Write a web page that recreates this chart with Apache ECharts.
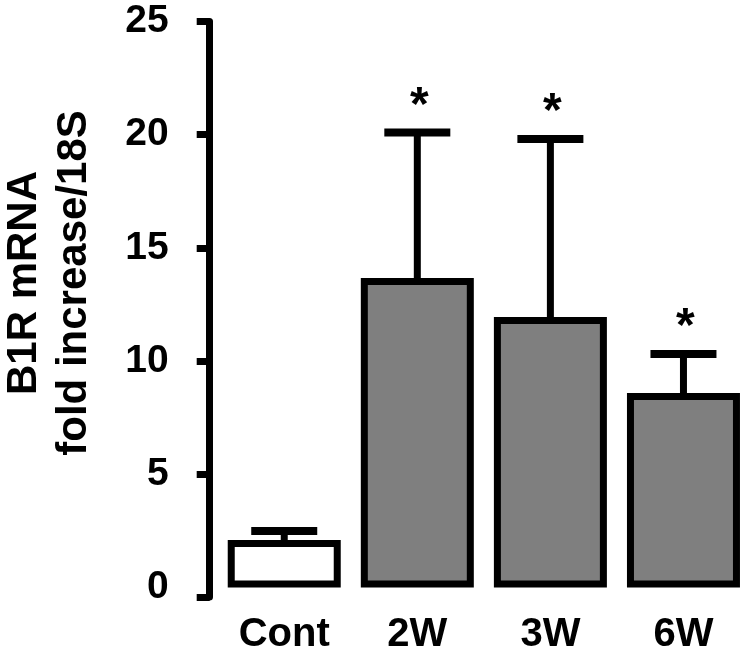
<!DOCTYPE html>
<html>
<head>
<meta charset="utf-8">
<script src="https://cdn.jsdelivr.net/npm/echarts@6/dist/echarts.min.js"></script>
<style>
  html, body { margin: 0; padding: 0; background: #fff; }
  #chart { width: 750px; height: 655px; }
</style>
</head>
<body>
<div id="chart"></div>
<script>
// ---- data ----
const categories = ['Cont', '2W', '3W', '6W'];
const means = [2.10, 13.67, 11.95, 8.59];
const upperErr = [2.50, 20.10, 19.81, 10.31];
const significance = ['', '*', '*', '*'];
const barColors = ['#ffffff', '#7f7f7f', '#7f7f7f', '#7f7f7f'];
const yTickLabels = [0, 5, 10, 15, 20, 25];
const yMin = -0.42;
const yMax = 25;

const FONT = '"Liberation Sans", Arial, Helvetica, sans-serif';

const chart = echarts.init(document.getElementById('chart'), null, { renderer: 'canvas' });

const barData = means.map((v, i) => ({ value: v, itemStyle: { color: barColors[i] } }));
const errData = means.map((v, i) => [i, v, upperErr[i], significance[i]]);

chart.setOption({
  animation: false,
  backgroundColor: '#ffffff',
  grid: { left: 217.7, right: -1, top: 21.5, bottom: 655 - 597, containLabel: false },
  xAxis: {
    type: 'category',
    data: categories,
    axisLine: { show: false },
    axisTick: { show: false },
    axisLabel: {
      margin: 18,
      color: '#000',
      fontFamily: FONT,
      fontWeight: 'bold',
      fontSize: 40
    }
  },
  yAxis: {
    type: 'value',
    min: yMin,
    max: yMax,
    offset: 8,
    splitLine: { show: false },
    axisLine: { show: true, lineStyle: { color: '#000', width: 7 } },
    axisTick: {
      show: true,
      length: 13,
      customValues: [yMin].concat(yTickLabels.slice(1)),
      lineStyle: { color: '#000', width: 7 }
    },
    axisLabel: {
      customValues: yTickLabels,
      margin: 41,
      color: '#000',
      fontFamily: FONT,
      fontWeight: 'bold',
      fontSize: 39
    }
  },
  graphic: [{
    type: 'text',
    x: 49,
    y: 283,
    rotation: Math.PI / 2,
    style: {
      text: 'B1R mRNA\nfold increase/18S',
      fill: '#000',
      font: 'bold 42px ' + FONT,
      lineHeight: 50,
      align: 'center',
      verticalAlign: 'middle'
    }
  }],
  series: [
    {
      type: 'custom',
      z: 1,
      data: errData,
      renderItem: function (params, api) {
        const base = api.coord([api.value(0), api.value(1)]);
        const top = api.coord([api.value(0), api.value(2)]);
        const half = 33;
        const sig = significance[params.dataIndex];
        const children = [
          { type: 'line', shape: { x1: base[0], y1: base[1] + 4, x2: base[0], y2: top[1] },
            style: { stroke: '#000', lineWidth: 7 } },
          { type: 'line', shape: { x1: base[0] - half, y1: top[1], x2: base[0] + half, y2: top[1] },
            style: { stroke: '#000', lineWidth: 8 } }
        ];
        if (sig) {
          children.push({
            type: 'text',
            x: base[0] + 2,
            y: top[1] - 2,
            style: { text: sig, fill: '#000', font: 'bold 48px ' + FONT, align: 'center', verticalAlign: 'bottom' }
          });
        }
        return { type: 'group', children: children };
      }
    },
    {
      type: 'bar',
      z: 2,
      data: barData,
      barWidth: 113,
      itemStyle: { borderColor: '#000', borderWidth: 7 }
    }
  ]
});
</script>
</body>
</html>
